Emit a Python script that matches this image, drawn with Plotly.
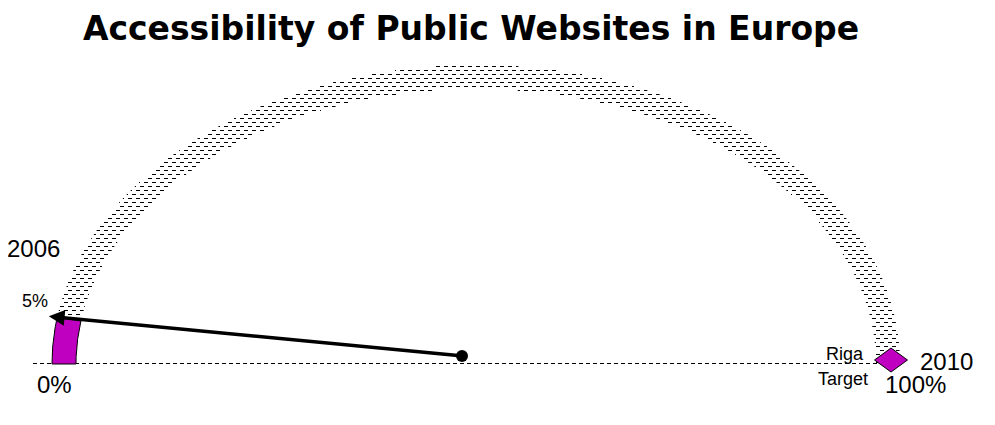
import numpy as np
import plotly.graph_objects as go

# data
years = ["2006", "2010"]
values = [5, 100]            # share of accessible public websites, %
scale_labels = ["0%", "5%", "100%"]
target_label = ["Riga", "Target"]
title = "Accessibility of Public Websites in Europe"

# dial geometry, plot units = screen pixels, origin at the dial centre
A_OUT, B_OUT = 424, 299
A_IN, B_IN = 400, 275
FONT = "Liberation Sans, Arial, sans-serif"
PAGE = 8  # default body margin of the html page


def ang(p):
    return np.pi * (1 - p / 100.0)


def arc(a, b, p0, p1, n=40):
    t = np.linspace(ang(p0), ang(p1), n)
    return list(a * np.cos(t)), list(b * np.sin(t))


fig = go.Figure()

# staggered dash texture of the dial band
hx, hy = [], []
for i, y in enumerate(np.arange(1.5, B_OUT, 4)):
    xo = A_OUT * np.sqrt(1 - (y / B_OUT) ** 2)
    if y < B_IN:
        xi = A_IN * np.sqrt(1 - (y / B_IN) ** 2)
        spans = [(-xo, -xi), (xi, xo)]
    else:
        spans = [(-xo, xo)]
    off = 4 * (i % 2)
    for lo, hi in spans:
        s = np.floor((lo - off) / 8) * 8 + off
        while s < hi:
            a, b = max(s, lo), min(s + 4, hi)
            if b - a > 0.8:
                hx += [a, b, None]
                hy += [y, y, None]
            s += 8
fig.add_trace(go.Scatter(x=hx, y=hy, mode="lines",
                         line=dict(color="black", width=1),
                         hoverinfo="skip"))

# dashed baseline
fig.add_trace(go.Scatter(x=[-443, 401], y=[0.5, 0.5], mode="lines",
                         line=dict(color="black", width=1, dash="4px,3px"),
                         hoverinfo="skip"))

# 2006 value wedge
ox, oy = arc(A_OUT, B_OUT, 0, values[0])
ix, iy = arc(A_IN, B_IN, values[0], 0)
fig.add_trace(go.Scatter(x=ox + ix + [ox[0]], y=oy + iy + [oy[0]],
                         mode="lines", fill="toself", fillcolor="#c000c0",
                         line=dict(color="black", width=1), hoverinfo="skip"))

# 2010 target diamond
cx = (A_OUT + A_IN) / 2 * np.cos(ang(values[1])) + 3
cy = 4
fig.add_trace(go.Scatter(x=[cx - 16.5, cx, cx + 16.5, cx, cx - 16.5],
                         y=[cy, cy + 12, cy, cy - 12, cy],
                         mode="lines", fill="toself", fillcolor="#c000c0",
                         line=dict(color="black", width=1), hoverinfo="skip"))

# needle
px, py = -14, 8
tx = 1.02 * A_OUT * np.cos(ang(values[0]))
ty = 1.02 * B_OUT * np.sin(ang(values[0]))
fig.add_annotation(x=tx, y=ty, ax=px, ay=py, axref="x", ayref="y",
                   text="", showarrow=True, arrowhead=2, arrowsize=0.9,
                   arrowwidth=3.5, arrowcolor="black", standoff=0)
fig.add_trace(go.Scatter(x=[px], y=[py], mode="markers",
                         marker=dict(color="black", size=12), hoverinfo="skip"))

# labels
labels = [
    (years[0], -443, 116, 24),
    (scale_labels[1], -441, 63, 18),
    (scale_labels[0], -422, -20, 24),
    (target_label[0], 369, 10, 18),
    (target_label[1], 367, -15, 18),
    (years[1], 470, 3, 24),
    (scale_labels[2], 439, -20, 24),
]
for txt, x, y, s in labels:
    fig.add_annotation(x=x, y=y, text=txt, showarrow=False,
                       font=dict(family=FONT, size=s, color="black"))

fig.update_layout(
    width=995, height=425,
    margin=dict(l=0, r=0, t=0, b=0),
    paper_bgcolor="white", plot_bgcolor="white",
    showlegend=False,
    title=dict(text="<b>" + title + "</b>", x=(471 - PAGE) / 995,
               y=1 - (28 - PAGE) / 425,
               xanchor="center", yanchor="middle", yref="container",
               font=dict(family="DejaVu Sans, sans-serif", size=33,
                         color="black")),
    xaxis=dict(range=[-476 + PAGE, 519 + PAGE], visible=False,
               fixedrange=True),
    yaxis=dict(range=[-61 - PAGE, 364 - PAGE], visible=False,
               fixedrange=True),
)

fig.write_html("out.html")
